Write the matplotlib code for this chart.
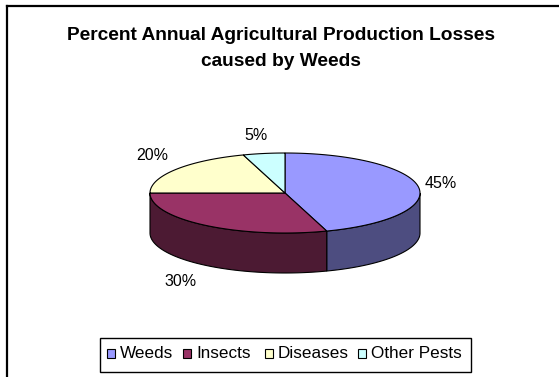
import numpy as np
import matplotlib.pyplot as plt
from matplotlib.patches import Polygon, Rectangle

plt.rcParams['font.family'] = ['Liberation Sans', 'DejaVu Sans']

# data
labels = ['Weeds', 'Insects', 'Diseases', 'Other Pests']
values = [45, 30, 20, 5]
top_colors = ['#9999FF', '#993366', '#FFFFCC', '#CCFFFF']
side_colors = ['#4D4D80', '#4C1A33', '#80806A', '#6A8080']

# pie geometry in pixel coordinates
cx, cy = 285, 193
a, b = 135, 40
depth = 40


def pt(theta, dy=0):
    t = np.radians(theta)
    return cx + a * np.sin(t), cy - b * np.cos(t) + dy


fig = plt.figure(figsize=(5.59, 3.77), dpi=100)
ax = fig.add_axes([0, 0, 1, 1])
ax.set_xlim(0, 559)
ax.set_ylim(377, 0)
ax.axis('off')

# chart border (only top and left visible)
ax.plot([6.5, 559], [5.5, 5.5], color='black', lw=1.6)
ax.plot([6.5, 6.5], [5.5, 377], color='black', lw=1.6)

fracs = np.array(values) / sum(values)
starts = np.concatenate([[0], np.cumsum(fracs)[:-1]]) * 360
ends = np.cumsum(fracs) * 360

# side walls (visible front half 90..270)
for s, e, col in zip(starts, ends, side_colors):
    lo, hi = max(s, 90), min(e, 270)
    if hi <= lo:
        continue
    th = np.linspace(lo, hi, 80)
    top = [pt(t) for t in th]
    bot = [pt(t, depth) for t in th[::-1]]
    ax.add_patch(Polygon(top + bot, closed=True, facecolor=col,
                         edgecolor='black', lw=0.8))

# top faces
for s, e, col in zip(starts, ends, top_colors):
    th = np.linspace(s, e, 120)
    pts = [(cx, cy)] + [pt(t) for t in th]
    ax.add_patch(Polygon(pts, closed=True, facecolor=col,
                         edgecolor='black', lw=0.8))

# percentage labels
label_pos = [(441, 184), (181, 281), (152, 156), (256, 135)]
for v, (x, y) in zip(values, label_pos):
    ax.text(x, y, f'{v}%', ha='center', va='center', fontsize=11.5)

# title
ax.text(281, 35, 'Percent Annual Agricultural Production Losses',
        ha='center', va='center', fontsize=13.8, fontweight='bold')
ax.text(281, 62, 'caused by Weeds', ha='center', va='center',
        fontsize=13.8, fontweight='bold')

# legend box
ax.add_patch(Rectangle((100, 338), 371, 34, facecolor='white',
                       edgecolor='black', lw=1))
leg_x = [107, 183, 265, 358]
for lab, col, x in zip(labels, top_colors, leg_x):
    ax.add_patch(Rectangle((x, 349), 8, 9, facecolor=col,
                           edgecolor='black', lw=0.8))
    ax.text(x + 13, 354, lab, ha='left', va='center', fontsize=12.3)

fig.savefig('out.png', dpi=100)
